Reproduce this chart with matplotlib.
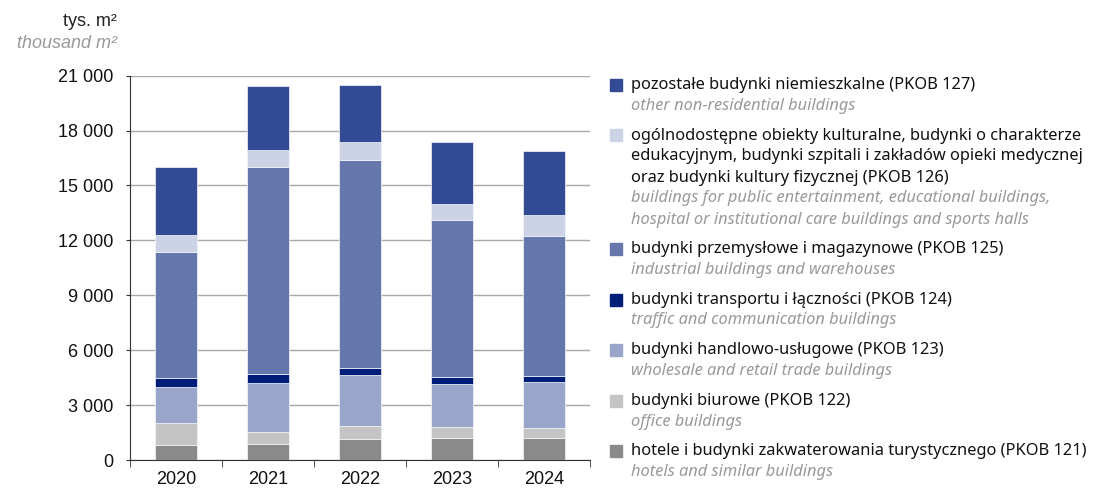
import numpy as np
import matplotlib.pyplot as plt

years = ['2020', '2021', '2022', '2023', '2024']

# usable floor area by PKOB class, thousand m2
pkob_121 = [820, 875, 1150, 1185, 1185]
pkob_122 = [1200, 640, 730, 640, 565]
pkob_123 = [1985, 2675, 2770, 2330, 2515]
pkob_124 = [460, 510, 365, 365, 330]
pkob_125 = [6885, 11300, 11385, 8580, 7635]
pkob_126 = [950, 940, 965, 870, 1180]
pkob_127 = [3700, 3515, 3100, 3390, 3460]

series = [pkob_121, pkob_122, pkob_123, pkob_124, pkob_125, pkob_126, pkob_127]
colors = ['#8a8a8a', '#c4c4c4', '#9aa6c9', '#001d7a', '#6677ad', '#cdd3e6', '#334a94']

legend_pl = [
    'pozostałe budynki niemieszkalne (PKOB 127)',
    'ogólnodostępne obiekty kulturalne, budynki o charakterze\n'
    'edukacyjnym, budynki szpitali i zakładów opieki medycznej\n'
    'oraz budynki kultury fizycznej (PKOB 126)',
    'budynki przemysłowe i magazynowe (PKOB 125)',
    'budynki transportu i łączności (PKOB 124)',
    'budynki handlowo-usługowe (PKOB 123)',
    'budynki biurowe (PKOB 122)',
    'hotele i budynki zakwaterowania turystycznego (PKOB 121)',
]
legend_en = [
    'other non-residential buildings',
    'buildings for public entertainment, educational buildings,\n'
    'hospital or institutional care buildings and sports halls',
    'industrial buildings and warehouses',
    'traffic and communication buildings',
    'wholesale and retail trade buildings',
    'office buildings',
    'hotels and similar buildings',
]
legend_colors = colors[::-1]

W, H = 1097, 490
fig = plt.figure(figsize=(W / 100, H / 100), dpi=100)
ax = fig.add_axes([130 / W, 1 - 460 / H, 460 / W, (460 - 75.7) / H])

x = np.arange(len(years))
bottom = np.zeros(len(years))
for vals, c in zip(series, colors):
    ax.bar(x, vals, 0.45, bottom=bottom, color=c, edgecolor='#f4f6fb', linewidth=0.5, zorder=3)
    bottom += np.array(vals)

ax.set_xlim(-0.5, len(years) - 0.5)
ax.set_ylim(0, 21000)
ax.set_yticks(np.arange(0, 21001, 3000))
ax.set_yticklabels([f'{v:,}'.replace(',', ' ') for v in range(0, 21001, 3000)],
                   family='Liberation Sans', fontsize=13, color='#111111')
ax.yaxis.grid(True, color='#a8a8a8', linewidth=1)
ax.tick_params(axis='y', length=3, pad=9, color='#333333')

# category labels centred, ticks on the boundaries
ax.set_xticks(x)
ax.set_xticklabels(years, family='Liberation Sans', fontsize=13, color='#111111')
ax.tick_params(axis='x', which='major', length=0, pad=8)
ax.set_xticks(np.arange(-0.5, len(years)), minor=True)
ax.tick_params(axis='x', which='minor', length=5, direction='out', color='#333333')

for s in ['top', 'right']:
    ax.spines[s].set_visible(False)
ax.spines['left'].set_color('#333333')
ax.spines['bottom'].set_color('#333333')

fig.text(117 / W, 1 - 22 / H, 'tys. m²', ha='right', va='center',
         family='Liberation Sans', fontsize=13, color='#222222')
fig.text(117 / W, 1 - 43 / H, 'thousand m²', ha='right', va='center',
         family='Liberation Sans', fontsize=13, style='italic', color='#999999')

# legend drawn as text blocks
line_h = 21
y = 85
for pl, en, c in zip(legend_pl, legend_en, legend_colors):
    fig.patches.append(plt.Rectangle((610 / W, 1 - (y + 6) / H), 12 / W, 12 / H,
                                     transform=fig.transFigure, color=c))
    for line in pl.split('\n'):
        fig.text(631 / W, 1 - y / H, line, ha='left', va='center',
                 family='Noto Sans', fontsize=11.8, color='#111111')
        y += line_h
    for line in en.split('\n'):
        fig.text(631 / W, 1 - y / H, line, ha='left', va='center',
                 family='Noto Sans', fontsize=11.8, style='italic', color='#999999')
        y += line_h
    y += 8.5

fig.savefig('out.png', dpi=100)
